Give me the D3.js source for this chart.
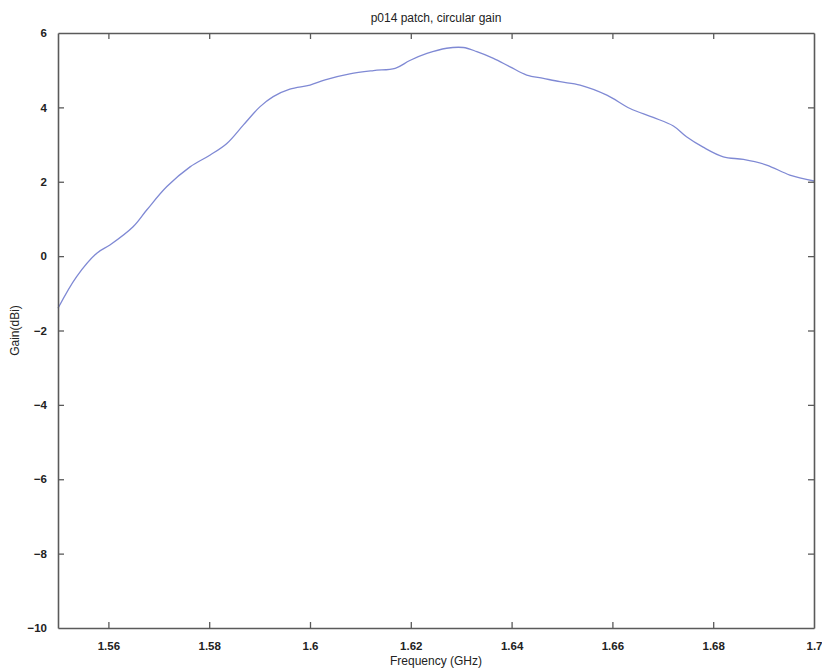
<!DOCTYPE html>
<html>
<head>
<meta charset="utf-8">
<script src="https://cdn.jsdelivr.net/npm/d3@7"></script>
<style>
  body { margin: 0; background: #fff; }
  text { font-family: "Liberation Sans", Arial, sans-serif; }
</style>
</head>
<body>
<svg id="chart" width="822" height="670"></svg>
<script>
"use strict";

// frequency samples (GHz) and circular gain (dBi)
var freqGHz = [1.550, 1.5537, 1.5577, 1.5603, 1.5649, 1.5676, 1.5716, 1.5762, 1.5802, 1.5835,
               1.5868, 1.5901, 1.5927, 1.5960, 1.6000, 1.6030, 1.6079, 1.6126, 1.6169, 1.6198,
               1.6232, 1.6271, 1.6304, 1.6331, 1.6364, 1.6397, 1.6430, 1.6463, 1.6496, 1.6536,
               1.6589, 1.6635, 1.6681, 1.6721, 1.6747, 1.6780, 1.6820, 1.6860, 1.6906, 1.6952,
               1.7000];
var gainDbi = [-1.40, -0.55, 0.08, 0.30, 0.79, 1.24, 1.87, 2.40, 2.72, 3.03,
               3.53, 4.02, 4.29, 4.49, 4.60, 4.74, 4.90, 4.99, 5.05, 5.26,
               5.45, 5.59, 5.61, 5.50, 5.32, 5.09, 4.87, 4.78, 4.69, 4.60,
               4.33, 3.97, 3.73, 3.50, 3.21, 2.93, 2.67, 2.60, 2.45, 2.18,
               2.02];

var xTicks = [1.56, 1.58, 1.6, 1.62, 1.64, 1.66, 1.68, 1.7];
var yTicks = [-10, -8, -6, -4, -2, 0, 2, 4, 6];

var chartTitle = "p014 patch, circular gain";
var xTitle = "Frequency (GHz)";
var yTitle = "Gain(dBi)";


(function() {

    var box = { left: 58, right: 814, top: 33, bottom: 628 };
    var axisColor = "#5a5a5a";
    var tickLen = 6;

    var svg = d3.select("#chart");

    var xScale = d3.scaleLinear().domain([1.55, 1.7]).range([box.left, box.right]);
    var yScale = d3.scaleLinear().domain([-10, 6]).range([box.bottom, box.top]);

    var fmtX = function(d) { return String(+d.toFixed(2)); };

    // curve first, so the frame sits on top
    var line = d3.line()
        .x(function(d) { return xScale(d[0]); })
        .y(function(d) { return yScale(d[1]); })
        .curve(d3.curveCatmullRom.alpha(0.5));

    svg.append("path")
        .datum(d3.zip(freqGHz, gainDbi))
        .attr("d", line)
        .attr("fill", "none")
        .attr("stroke", "#7f89d4")
        .attr("stroke-width", 1.3);

    // matlab style axes: inward ticks on all four sides
    var bottomAxis = d3.axisBottom(xScale).tickValues(xTicks).tickSizeInner(-tickLen).tickSizeOuter(0)
        .tickPadding(tickLen + 8).tickFormat(fmtX);
    var topAxis = d3.axisTop(xScale).tickValues(xTicks).tickSizeInner(-tickLen).tickSizeOuter(0)
        .tickFormat("");
    var leftAxis = d3.axisLeft(yScale).tickValues(yTicks).tickSizeInner(-tickLen).tickSizeOuter(0)
        .tickPadding(tickLen + 5);
    var rightAxis = d3.axisRight(yScale).tickValues(yTicks).tickSizeInner(-tickLen).tickSizeOuter(0)
        .tickFormat("");

    var gB = svg.append("g").attr("transform", "translate(0," + box.bottom + ")").call(bottomAxis);
    var gT = svg.append("g").attr("transform", "translate(0," + box.top + ")").call(topAxis);
    var gL = svg.append("g").attr("transform", "translate(" + box.left + ",0)").call(leftAxis);
    var gR = svg.append("g").attr("transform", "translate(" + box.right + ",0)").call(rightAxis);

    [gB, gT, gL, gR].forEach(function(g) {
        g.select(".domain").attr("stroke", axisColor).attr("stroke-width", 1.6);
        g.selectAll(".tick line").attr("stroke", axisColor).attr("stroke-width", 1.3);
        g.selectAll(".tick text")
            .attr("fill", "#222")
            .style("font-family", "'Liberation Sans', Arial, sans-serif")
            .style("font-size", "11.5px")
            .style("font-weight", "bold");
    });

    // hide tick marks that fall on the frame corners
    gT.selectAll(".tick").filter(function(d) { return d === 1.7; }).select("line").remove();
    gB.selectAll(".tick").filter(function(d) { return d === 1.7; }).select("line").remove();
    gL.selectAll(".tick").filter(function(d) { return d === -10 || d === 6; }).select("line").remove();
    gR.selectAll(".tick").filter(function(d) { return d === -10 || d === 6; }).select("line").remove();

    // titles
    svg.append("text")
        .text(chartTitle)
        .attr("x", (box.left + box.right) / 2)
        .attr("y", 22)
        .attr("text-anchor", "middle")
        .attr("font-size", "12px")
        .attr("fill", "#222");

    svg.append("text")
        .text(xTitle)
        .attr("x", (box.left + box.right) / 2)
        .attr("y", 665)
        .attr("text-anchor", "middle")
        .attr("font-size", "12px")
        .attr("fill", "#222");

    svg.append("text")
        .text(yTitle)
        .attr("text-anchor", "middle")
        .attr("font-size", "12px")
        .attr("fill", "#222")
        .attr("transform", "translate(19," + ((box.top + box.bottom) / 2) + ") rotate(-90)");

})();
</script>
</body>
</html>
